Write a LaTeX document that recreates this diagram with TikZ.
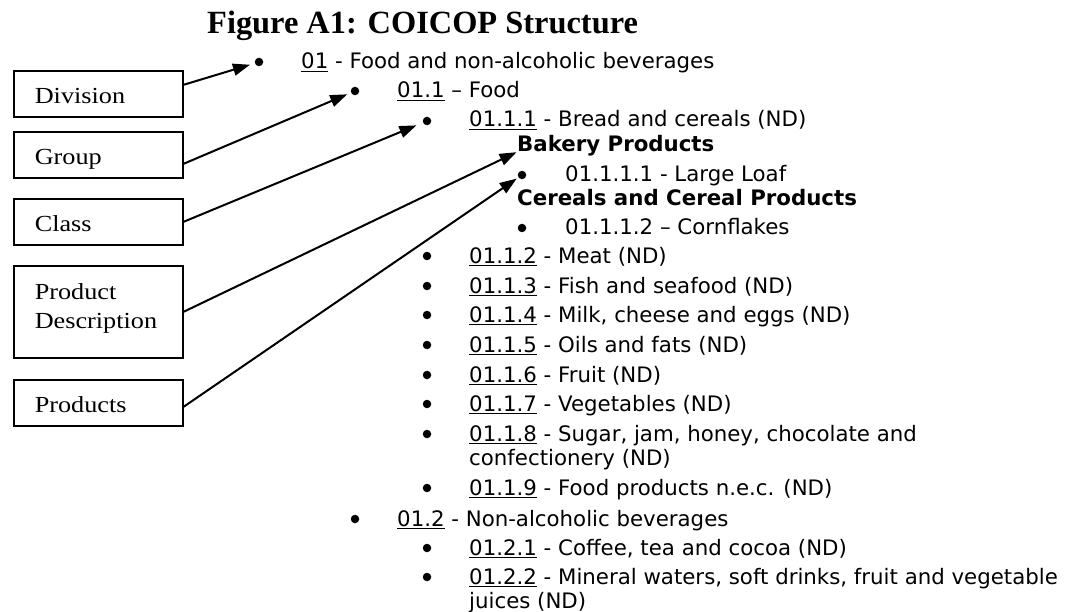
\documentclass[tikz,border=0pt]{standalone}
\usepackage{fontspec}
\setmainfont{DejaVu Sans}
\newfontfamily\boxserif[FakeStretch=1.14]{Liberation Serif}
\newfontfamily\titleserif{Liberation Serif}
\usetikzlibrary{arrows.meta}
\newcommand\ucd[1]{\setbox0=\hbox{#1}\rlap{\rule[-3pt]{\wd0}{1.4pt}}\box0\relax}
\newcommand\bxtop{\rule{0pt}{33pt}}
\newcommand\bxbot[1]{\rule[-#1]{0pt}{#1}}
\tikzset{
  txt/.style={anchor=base west, inner sep=0pt, font=\fontsize{21.3}{25}\selectfont},
  btxt/.style={anchor=base west, inner sep=0pt, font=\fontsize{21.3}{25}\selectfont\bfseries},
  dot/.style={circle, fill=black, inner sep=0pt, minimum size=8.5pt},
  lbox/.style={draw, line width=1.6pt, anchor=north west, align=left, text width=127pt,
    inner xsep=21pt, inner ysep=0pt, font=\boxserif\fontsize{23}{29}\selectfont},
  arr/.style={line width=2pt, -{Triangle[length=17pt,width=12pt]}},
}
\begin{document}
\begin{tikzpicture}[x=1pt,y=-1pt]
\fill[white] (0,0) rectangle (1067,612);
\useasboundingbox (0,0) rectangle (1067,612);

\node[anchor=base west, inner sep=0pt, font=\titleserif\bfseries\fontsize{32.4}{36}\selectfont] (title) at (207,34) {Figure A1: COICOP Structure};

% label boxes
\node[lbox] (div) at (13,70) {\bxtop Division\bxbot{13pt}};
\node[lbox] (grp) at (13,131) {\bxtop Group\bxbot{13pt}};
\node[lbox] (cls) at (13,198) {\bxtop Class\bxbot{13pt}};
\node[lbox] (pd) at (13,265) {\rule{0pt}{34pt}Product\\Description\bxbot{29pt}};
\node[lbox] (prd) at (13,379) {\bxtop Products\bxbot{13pt}};

% list
\node[dot] (b01) at (259,62) {};
\node[txt] (t01) at (301,69) {\ucd{01} - Food and non-alcoholic beverages};
\node[dot] (b011) at (355,91) {};
\node[txt] (t011) at (397,98) {\ucd{01.1} – Food};
\node[dot] (b0111) at (427,121) {};
\node[txt] (t0111) at (469,127) {\ucd{01.1.1} - Bread and cereals (ND)};
\node[btxt] (bakery) at (517,152) {Bakery Products};
\node[dot] (b01111) at (522,175) {};
\node[txt] (t01111) at (565,182) {01.1.1.1 - Large Loaf};
\node[btxt] (cereals) at (517,206) {Cereals and Cereal Products};
\node[dot] (b01112) at (522,228) {};
\node[txt] (t01112) at (565,235) {01.1.1.2 – Cornflakes};
\node[dot] (b0112) at (427,256) {};
\node[txt] (t0112) at (469,263) {\ucd{01.1.2} - Meat (ND)};
\node[dot] (b0113) at (427,286) {};
\node[txt] (t0113) at (469,293) {\ucd{01.1.3} - Fish and seafood (ND)};
\node[dot] (b0114) at (427,315) {};
\node[txt] (t0114) at (469,322) {\ucd{01.1.4} - Milk, cheese and eggs (ND)};
\node[dot] (b0115) at (427,345) {};
\node[txt] (t0115) at (469,352) {\ucd{01.1.5} - Oils and fats (ND)};
\node[dot] (b0116) at (427,375) {};
\node[txt] (t0116) at (469,382) {\ucd{01.1.6} - Fruit (ND)};
\node[dot] (b0117) at (427,404) {};
\node[txt] (t0117) at (469,411) {\ucd{01.1.7} - Vegetables (ND)};
\node[dot] (b0118) at (427,434) {};
\node[txt] (t0118) at (469,441) {\ucd{01.1.8} - Sugar, jam, honey, chocolate and};
\node[txt] (t0118b) at (469,465) {confectionery (ND)};
\node[dot] (b0119) at (427,488) {};
\node[txt] (t0119) at (469,495) {\ucd{01.1.9} - Food products n.e.c. (ND)};
\node[dot] (b012) at (355,519) {};
\node[txt] (t012) at (397,526) {\ucd{01.2} - Non-alcoholic beverages};
\node[dot] (b0121) at (427,548) {};
\node[txt] (t0121) at (469,555) {\ucd{01.2.1} - Coffee, tea and cocoa (ND)};
\node[dot] (b0122) at (427,577) {};
\node[txt] (t0122) at (469,584) {\ucd{01.2.2} - Mineral waters, soft drinks, fruit and vegetable};
\node[txt] (t0122b) at (469,608) {juices (ND)};

% arrows
\draw[arr, shorten >=5pt] ([yshift=9pt]div.east) -- (b01);
\draw[arr, shorten >=4pt] ([yshift=-9pt]grp.east) -- (b011);
\draw[arr, shorten >=7pt] ([yshift=0pt]cls.east) -- (b0111);
\draw[arr, shorten >=0.5pt] ([yshift=0pt]pd.east) -- (bakery.base west);
\draw[arr, shorten >=2pt] ([yshift=-4pt]prd.east) -- (b01111);
\end{tikzpicture}
\end{document}
